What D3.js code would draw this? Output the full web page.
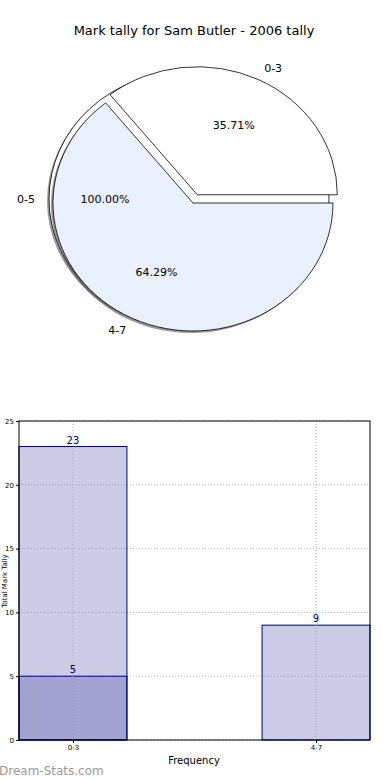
<!DOCTYPE html>
<html>
<head>
<meta charset="utf-8">
<script src="https://cdn.jsdelivr.net/npm/d3@7"></script>
<style>
  body { margin: 0; background: #fff; }
  text { font-family: "DejaVu Sans", sans-serif; }
</style>
</head>
<body>
<div id="chart"></div>
<script>
// pie data
var pieLabels = ["0-3", "4-7"];
var pieValues = [5, 9];
var piePct = ["35.71%", "64.29%"];
var totalLabel = "0-5";
var totalPct = "100.00%";

// bar data
var barCategories = ["0-3", "4-7"];
var tallyAll = [23, null];
var tallyMarks = [5, 9];
var yTicks = [0, 5, 10, 15, 20, 25];

var W = 390, H = 780;
var svg = d3.select("#chart").append("svg")
    .attr("width", W)
    .attr("height", H);

// title
svg.append("text")
    .attr("x", 194).attr("y", 35)
    .attr("text-anchor", "middle")
    .style("font-size", "13px")
    .text("Mark tally for Sam Butler - 2006 tally");

// ---- pie ----
var cx = 193, cy = 203, rx = 140, ry = 128;
var sy = ry / rx;

var pie = d3.pie().sort(null)
    .startAngle(Math.PI / 2)
    .endAngle(Math.PI / 2 - 2 * Math.PI);
var slices = pie(pieValues);
var arc = d3.arc().innerRadius(0).outerRadius(rx);
var explode = [10, 0];
var fills = ["#ffffff", "#eaf0fd"];

var pieG = svg.append("g");

function mid(d) { return (d.startAngle + d.endAngle) / 2; }

// the full "0-5" wedge sits behind the others
var tx = cx - 4, ty = cy - 4;
pieG.append("ellipse")
    .attr("cx", tx - 2).attr("cy", ty + 2)
    .attr("rx", rx).attr("ry", ry)
    .attr("fill", "#555").attr("opacity", 0.6);
pieG.append("ellipse")
    .attr("cx", tx).attr("cy", ty)
    .attr("rx", rx).attr("ry", ry)
    .attr("fill", "#fff").attr("stroke", "#000").attr("stroke-width", 0.8);

// 4-7 first, then the exploded 0-3 on top
[1, 0].forEach(function(i) {
    var d = slices[i];
    var a = mid(d);
    var ox = Math.sin(a) * explode[i];
    var oy = -Math.cos(a) * explode[i] * sy;
    if (i === 1) {
        pieG.append("path")
            .attr("d", arc(d))
            .attr("transform", "translate(" + (cx + ox - 2) + "," + (cy + oy + 2) + ") scale(1," + sy + ")")
            .attr("fill", "#555").attr("opacity", 0.6);
    }
    pieG.append("path")
        .attr("d", arc(d))
        .attr("transform", "translate(" + (cx + ox) + "," + (cy + oy) + ") scale(1," + sy + ")")
        .attr("fill", fills[i])
        .attr("stroke", "#000")
        .attr("stroke-width", 0.8)
        .attr("vector-effect", "non-scaling-stroke");
});

// labels
slices.forEach(function(d, i) {
    var a = mid(d);
    var ox = Math.sin(a) * explode[i];
    var oy = -Math.cos(a) * explode[i] * sy;
    var lx = cx + ox + Math.sin(a) * rx * 1.1;
    var ly = cy + oy - Math.cos(a) * ry * 1.1;
    svg.append("text")
        .attr("x", lx).attr("y", ly)
        .attr("dy", "0.35em")
        .attr("text-anchor", Math.sin(a) > 0 ? "start" : "end")
        .style("font-size", "11px")
        .text(pieLabels[i]);
    svg.append("text")
        .attr("x", cx + ox + Math.sin(a) * rx * 0.6)
        .attr("y", cy + oy - Math.cos(a) * ry * 0.6)
        .attr("dy", "0.35em")
        .attr("text-anchor", "middle")
        .style("font-size", "11px")
        .text(piePct[i]);
});
svg.append("text")
    .attr("x", tx - rx * 1.1).attr("y", ty)
    .attr("dy", "0.35em").attr("text-anchor", "end")
    .style("font-size", "11px")
    .text(totalLabel);
svg.append("text")
    .attr("x", tx - rx * 0.6).attr("y", ty)
    .attr("dy", "0.35em").attr("text-anchor", "middle")
    .style("font-size", "11px")
    .text(totalPct);

// ---- bar chart ----
var bx0 = 19, bx1 = 370, by0 = 421, by1 = 740;
var xScale = d3.scaleLinear().domain([-0.222, 1.222]).range([bx0, bx1]);
var yScale = d3.scaleLinear().domain([0, 25]).range([by1, by0]);
var barW = 0.444;

var bar = svg.append("g");

// grid
bar.selectAll(".hg").data(yTicks).enter().append("line")
    .attr("x1", bx0).attr("x2", bx1)
    .attr("y1", function(d) { return yScale(d); })
    .attr("y2", function(d) { return yScale(d); })
    .attr("stroke", "#aaa").attr("stroke-dasharray", "1,2").attr("stroke-width", 0.8);

function drawBars(vals) {
    vals.forEach(function(v, i) {
        if (v == null) return;
        var left = Math.max(bx0, xScale(i - barW / 2));
        var right = Math.min(bx1, xScale(i + barW / 2));
        bar.append("rect")
            .attr("x", left).attr("y", yScale(v))
            .attr("width", right - left)
            .attr("height", yScale(0) - yScale(v))
            .attr("fill", "navy").attr("fill-opacity", 0.2)
            .attr("stroke", "navy").attr("stroke-width", 1);
        bar.append("text")
            .attr("x", xScale(i)).attr("y", yScale(v) - 3)
            .attr("text-anchor", "middle")
            .attr("fill", "navy")
            .style("font-size", "10px")
            .text(v);
    });
}
drawBars(tallyAll);
drawBars(tallyMarks);

// vertical grid over bars
bar.selectAll(".vg").data(barCategories).enter().append("line")
    .attr("x1", function(d, i) { return xScale(i); })
    .attr("x2", function(d, i) { return xScale(i); })
    .attr("y1", by0).attr("y2", by1)
    .attr("stroke", "#999").attr("stroke-dasharray", "1,2").attr("stroke-width", 0.8);

// frame
bar.append("rect")
    .attr("x", bx0).attr("y", by0)
    .attr("width", bx1 - bx0).attr("height", by1 - by0)
    .attr("fill", "none").attr("stroke", "#000").attr("stroke-width", 1);

// axes
var yAxis = d3.axisLeft(yScale).tickValues(yTicks).tickSize(3).tickPadding(2);
var yG = svg.append("g").attr("transform", "translate(" + bx0 + ",0)").call(yAxis);
yG.select(".domain").remove();
yG.selectAll("text").style("font-size", "7px");

var xAxis = d3.axisBottom(xScale).tickValues([0, 1])
    .tickFormat(function(d) { return barCategories[d]; })
    .tickSize(3).tickPadding(2);
var xG = svg.append("g").attr("transform", "translate(0," + by1 + ")").call(xAxis);
xG.select(".domain").remove();
xG.selectAll("text").style("font-size", "7px");

svg.append("text")
    .attr("x", 194).attr("y", 764)
    .attr("text-anchor", "middle")
    .style("font-size", "10px")
    .text("Frequency");

// y label, kept fully inside the page between the tick labels
svg.append("text")
    .attr("transform", "translate(7,581) rotate(-90)")
    .attr("text-anchor", "middle")
    .style("font-size", "7px")
    .text("Total Mark Tally");

svg.append("text")
    .attr("x", -1).attr("y", 775)
    .attr("fill", "#999")
    .style("font-size", "12px")
    .text("Dream-Stats.com");
</script>
</body>
</html>
